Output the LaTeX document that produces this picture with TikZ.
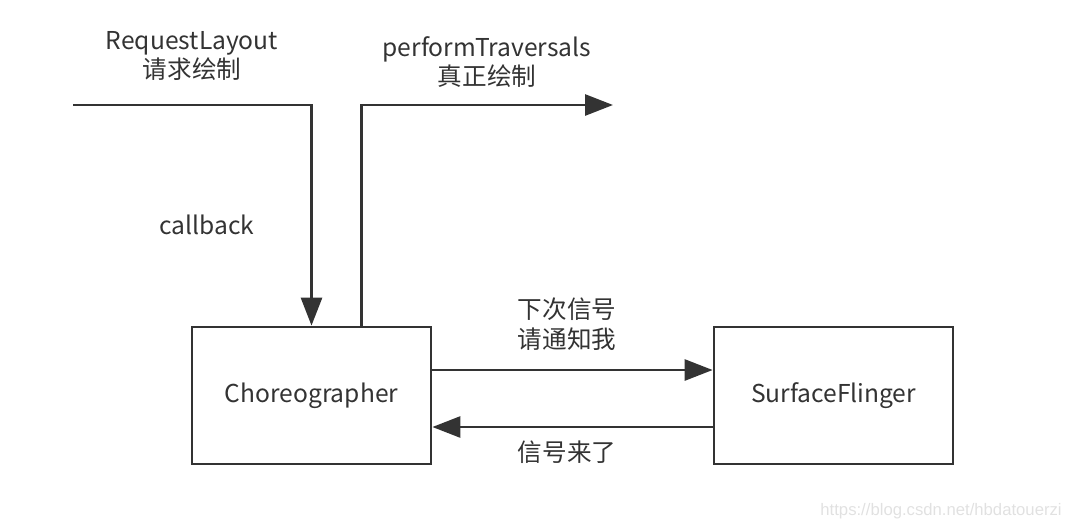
\documentclass[tikz,border=0pt]{standalone}
\usepackage{fontspec}
\setmainfont{Noto Sans CJK SC}
\newfontfamily\markfont{Liberation Sans}
\usetikzlibrary{arrows.meta}
\definecolor{ink}{RGB}{51, 51, 51}
\definecolor{markgray}{RGB}{225, 225, 225}

\tikzset{
  box/.style   = {draw=ink, line width=1.6pt, minimum width=4.78cm, minimum height=2.74cm,
                  inner sep=0pt, font=\fontsize{14}{17}\selectfont, text=ink},
  label/.style = {text=ink, font=\fontsize{14}{17}\selectfont, align=center, inner sep=0pt},
  arr/.style   = {draw=ink, line width=1.6pt, -{Triangle[length=0.56cm, width=0.42cm]}},
  wire/.style  = {draw=ink, line width=1.6pt}
}

\begin{document}
\begin{tikzpicture}[x=0.02cm, y=-0.02cm]
            \useasboundingbox (0,0) rectangle (1070,528);
            % the two boxes
            \node[box] (chor)    at (311.5,395.5) {Choreographer};
            \node[box] (surface) at (833.5,395.5) {SurfaceFlinger};
            % free ends of the top connectors
            \coordinate (reqstart) at (73,105);
            \coordinate (perfend)  at (613,105);
            % connectors
            \draw[arr] (reqstart) -| (chor.north);
            \draw[arr] ([xshift=1cm]chor.north) |- (perfend);
            \draw[arr] ([yshift=0.51cm]chor.east)  -- ([yshift=0.51cm]surface.west);
            \draw[arr] ([yshift=-0.63cm]surface.west) -- ([yshift=-0.63cm]chor.east);
            % texts
            \node[label] (reqtext)  at (192,56)  {RequestLayout\\请求绘制};
            \node[label] (perftext) at (487,62)  {performTraversals\\真正绘制};
            \node[label] (cbtext)   at (207,225) {callback};
            \node[label] (asktext)  at (567,324) {下次信号\\请通知我};
            \node[label] (sigtext)  at (567,452) {信号来了};
            \node[text=markgray, font=\markfont\fontsize{9.5}{11}\selectfont, inner sep=0pt, anchor=east] (mark) at (1062,511) {https://blog.csdn.net/hbdatouerzi};
\end{tikzpicture}
\end{document}
